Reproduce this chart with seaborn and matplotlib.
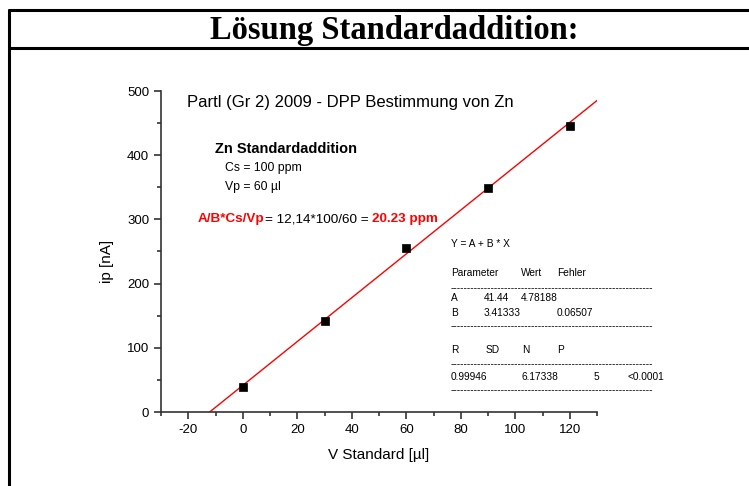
import numpy as np
import pandas as pd
import matplotlib.pyplot as plt
from matplotlib.lines import Line2D
import seaborn as sns

sns.set_style("ticks")
plt.rcParams['font.family'] = ['Liberation Sans', 'DejaVu Sans']
plt.rcParams['axes.unicode_minus'] = False
plt.rcParams['text.color'] = 'black'
plt.rcParams['axes.labelcolor'] = 'black'
plt.rcParams['xtick.labelcolor'] = 'black'
plt.rcParams['ytick.labelcolor'] = 'black'

# Messwerte Standardaddition
v_standard = [0, 30, 60, 90, 120]
ip_na = [39.5, 141, 255, 349.5, 446.2]

# Regressionsparameter (aus Origin)
fit_a = 41.44
fit_b = 3.41333
fit_x = [-30, 130]

x_ticks = [-20, 0, 20, 40, 60, 80, 100, 120]
y_ticks = [0, 100, 200, 300, 400, 500]

W, H = 749, 486


def fx(px):
    return px / W


def fy(py):
    return 1 - py / H


fig = plt.figure(figsize=(W / 100, H / 100), dpi=100)
ax = fig.add_axes([fx(161), fy(412), fx(597) - fx(161), fy(91) - fy(412)])

df = pd.DataFrame({'x': v_standard, 'y': ip_na})
line_df = pd.DataFrame({'x': fit_x, 'y': [fit_a + fit_b * v for v in fit_x]})

sns.lineplot(data=line_df, x='x', y='y', color='red', linewidth=1.0, ax=ax)
sns.scatterplot(data=df, x='x', y='y', marker='s', s=40, color='black',
                edgecolor='black', zorder=3, ax=ax)

ax.set_xlim(-30, 130)
ax.set_ylim(0, 500)
ax.set_xticks(x_ticks)
ax.set_yticks(y_ticks)
ax.set_xticks(np.arange(-30, 131, 10), minor=True)
ax.set_yticks(np.arange(0, 501, 50), minor=True)
ax.tick_params(which='both', direction='out', labelsize=9.5, width=1.2,
               color='#333333')
ax.tick_params(which='major', length=5)
ax.tick_params(which='minor', length=3)
ax.set_xlabel("V Standard [µl]", fontsize=11, labelpad=9)
ax.set_ylabel("ip [nA]", fontsize=11)
ax.yaxis.set_label_coords(-0.108, 0.47)
for s in ['top', 'right']:
    ax.spines[s].set_visible(False)
for s in ['left', 'bottom']:
    ax.spines[s].set_linewidth(1.2)
    ax.spines[s].set_color('#333333')

# Beschriftungen im Diagramm
fig.text(fx(187), fy(103), "Partl (Gr 2) 2009 - DPP Bestimmung von Zn",
         fontsize=12, va='center')
fig.text(fx(215), fy(149), "Zn Standardaddition", fontsize=10.5,
         fontweight='bold', va='center')
fig.text(fx(225), fy(168), "Cs = 100 ppm", fontsize=8.8, va='center')
fig.text(fx(225), fy(187), "Vp = 60 µl", fontsize=8.8, va='center')

t1 = fig.text(fx(198), fy(219), "A/B*Cs/Vp", fontsize=9.7, color='red',
              fontweight='bold', va='center')
t2 = ax.annotate("= 12,14*100/60 = ", xy=(1, 0.5), xycoords=t1,
                 va='center', fontsize=9.7, color='black')
ax.annotate("20.23 ppm", xy=(1, 0.5), xycoords=t2, va='center',
            fontsize=9.7, color='red', fontweight='bold')

# Fit-Tabelle
fs = 7.3
dash = "-" * 60
rows = [
    (244, [(451, "Y = A + B * X")]),
    (273, [(451, "Parameter"), (521, "Wert"), (557, "Fehler")]),
    (288, [(451, dash)]),
    (298, [(451, "A"), (484, "41.44"), (521, "4.78188")]),
    (313, [(451, "B"), (484, "3.41333"), (557, "0.06507")]),
    (326, [(451, dash)]),
    (350, [(451, "R"), (486, "SD"), (522, "N"), (557, "P")]),
    (364, [(451, dash)]),
    (377, [(451, "0.99946"), (522, "6.17338"), (594, "5"), (627, "<0.0001")]),
    (390, [(451, dash)]),
]
for py, items in rows:
    for px, txt in items:
        fig.text(fx(px), fy(py), txt, fontsize=fs, va='center')

# Rahmen und Titel
lw = 2.2
fig.add_artist(Line2D([fx(8.5), 1], [fy(10.5), fy(10.5)], color='black', lw=lw))
fig.add_artist(Line2D([fx(8.5), 1], [fy(48.5), fy(48.5)], color='black', lw=lw))
fig.add_artist(Line2D([fx(8.5), fx(8.5)], [fy(10.5), 0], color='black', lw=lw))
fig.text(fx(394), fy(30), "Lösung Standardaddition:", fontsize=23.5,
         fontweight='bold', family='Liberation Serif', ha='center', va='center')

fig.savefig("out.png", dpi=100)
